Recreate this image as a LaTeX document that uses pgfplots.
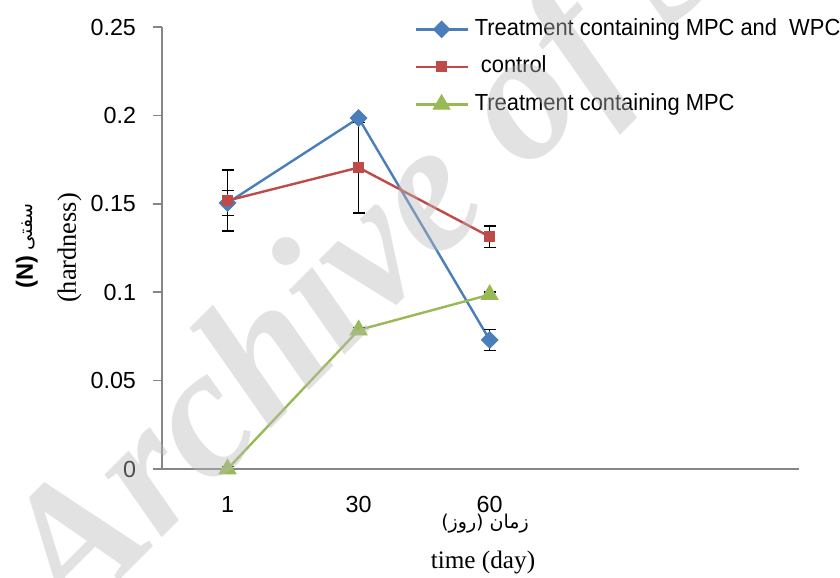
\documentclass[border=0pt]{standalone}
\usepackage{fontspec}
\usepackage{pgfplots}
\pgfplotsset{compat=1.18}
\setmainfont{Liberation Sans}
\newfontfamily\seriffont{Liberation Serif}
\newfontfamily\legendfont[FakeStretch=0.94]{Liberation Sans}
\newfontfamily\arabicfont[Script=Arabic]{DejaVu Sans}
\TeXXeTstate=1
\definecolor{sblue}{HTML}{4A7EBB}
\definecolor{sred}{HTML}{BE4B48}
\definecolor{sgreen}{HTML}{98B954}
\definecolor{axgray}{HTML}{868686}
\begin{document}
\begin{tikzpicture}
\useasboundingbox (-81bp,-54.5bp) rectangle (339bp,234.5bp);
\begin{axis}[
  at={(0,0)}, anchor=south west,
  scale only axis, width=318.5bp, height=221bp,
  xmin=-0.5, xmax=4.36, ymin=0, ymax=0.25,
  axis x line=bottom, axis y line=left,
  axis line style={draw=axgray, line width=0.75bp, -},
  xtick={0,1,2}, xticklabels={1,30,60},
  ytick={0,0.05,0.1,0.15,0.2,0.25},
  yticklabels={0,0.05,0.1,0.15,0.2,0.25},
  /pgf/number format/assume math mode=true,
  x tick style={draw=none},
  y tick style={draw=axgray, line width=0.75bp},
  tick align=outside, major tick length=4.5bp,
  ticklabel style={font=\fontsize{11.65bp}{14bp}\selectfont, text=black},
  xticklabel style={anchor=base, yshift=-17bp},
  yticklabel style={anchor=east, xshift=-5bp},
  clip=false,
  legend cell align=left,
  legend style={draw=none, fill=none, at={(0.3862,1.0317)}, anchor=north west,
    font=\legendfont\fontsize{11.65bp}{14bp}\selectfont,
    nodes={inner sep=0pt, text height=9bp, text depth=3bp},
    row sep=6.75bp,
    /tikz/every odd column/.append style={column sep=3bp}},
  legend image code/.code={\draw[mark repeat=2,mark phase=2] plot coordinates {(0bp,0bp) (13bp,0bp) (26bp,0bp)};},
  error bars/error bar style={black, line width=0.75bp},
  error bars/error mark options={black, line width=0.75bp, mark size=3bp, rotate=90},
]
\addplot[sblue, line width=1.2bp, mark=square*,
  mark options={solid, rotate=45, fill=sblue, draw=sblue, line width=0.5bp}, mark size=2.9bp,
  error bars/.cd, y dir=both, y explicit]
  coordinates {(0,0.1505) +- (0,0.007) (1,0.1985) +- (0,0) (2,0.0730) +- (0,0.006)};
\addlegendentry{Treatment containing MPC and~ WPC}
\addplot[sred, line width=1.2bp, mark=square*,
  mark options={solid, fill=sred, draw=sred, line width=0.5bp}, mark size=2.5bp,
  error bars/.cd, y dir=both, y explicit]
  coordinates {(0,0.1518) +- (0,0.0172) (1,0.1705) +- (0,0.0256) (2,0.1314) +- (0,0.006)};
\addlegendentry{~control}
\addplot[sgreen, line width=1.2bp, mark=triangle*,
  mark options={solid, fill=sgreen, draw=sgreen, line width=0.5bp}, mark size=4.8bp,
  error bars/.cd, y dir=both, y explicit]
  coordinates {(0,0) +- (0,0.0015) (1,0.0786) +- (0,0.0015) (2,0.0986) +- (0,0.0015)};
\addlegendentry{Treatment containing MPC}
\end{axis}
% axis titles
\node[anchor=base, font=\seriffont\fontsize{12.6bp}{14bp}\selectfont] at (160.5bp,-49.5bp) {time (day)};
\node[anchor=base, font=\arabicfont\fontsize{9.5bp}{11bp}\selectfont] at (161.5bp,-29.5bp) {\beginR زمان (روز)\endR};
\node[anchor=base, rotate=90, font=\seriffont\fontsize{13.2bp}{15bp}\selectfont] at (-43bp,110.5bp) {(hardness)};
\node[anchor=base, rotate=90] at (-64.5bp,111.5bp) {{\bfseries\fontsize{11.8bp}{14bp}\selectfont (N)} {\arabicfont\fontsize{9.5bp}{11bp}\selectfont\beginR سفتی\endR}};
% watermark
\node[rotate=45, anchor=base west, text=black!27, opacity=0.42,
  font=\seriffont\bfseries\itshape\fontsize{92.5bp}{95bp}\selectfont] at (-47.2bp,-81.75bp) {Archive of SID};
\end{tikzpicture}
\end{document}
